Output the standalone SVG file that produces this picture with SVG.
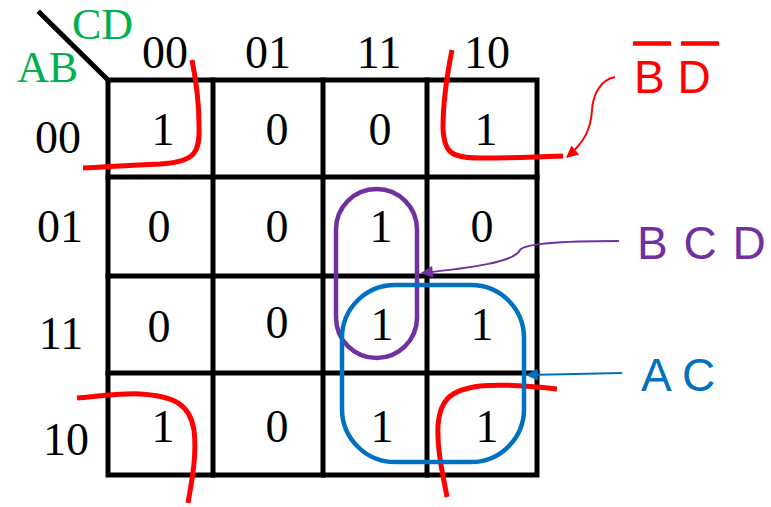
<svg xmlns="http://www.w3.org/2000/svg" width="771" height="507" viewBox="0 0 771 507">
<style>
.g{stroke:#000;stroke-width:5;fill:none;stroke-linecap:square}
.n{font-family:"Liberation Serif","Times New Roman",serif;font-size:46px;fill:#000;text-anchor:middle}
.hd{font-family:"Liberation Serif","Times New Roman",serif;font-size:44px;fill:#00B050}
.lb{font-family:"Liberation Sans",Arial,sans-serif;font-size:46px}
.red{stroke:#FF0000;stroke-width:5;fill:none;stroke-linecap:butt}
</style>
<defs>
<marker id="ar" viewBox="0 0 10 10" refX="9" refY="5" markerWidth="14" markerHeight="12" orient="auto" markerUnits="userSpaceOnUse"><path d="M0,0L10,5L0,10z" fill="#FF0000"/></marker>
<marker id="ap" viewBox="0 0 10 10" refX="9" refY="5" markerWidth="14" markerHeight="12" orient="auto" markerUnits="userSpaceOnUse"><path d="M0,0L10,5L0,10z" fill="#7030A0"/></marker>
<marker id="ab" viewBox="0 0 10 10" refX="9" refY="5" markerWidth="14" markerHeight="12" orient="auto" markerUnits="userSpaceOnUse"><path d="M0,0L10,5L0,10z" fill="#0070C0"/></marker>
</defs>
<g id="grid">
<line class="g" x1="40" y1="13" x2="108" y2="80"/>
<rect class="g" x="108" y="80" width="429" height="395"/>
<line class="g" x1="213" y1="80" x2="213" y2="475"/>
<line class="g" x1="323" y1="80" x2="323" y2="475"/>
<line class="g" x1="427" y1="80" x2="427" y2="475"/>
<line class="g" x1="108" y1="177" x2="537" y2="177"/>
<line class="g" x1="108" y1="276" x2="537" y2="276"/>
<line class="g" x1="108" y1="373" x2="537" y2="373"/>
</g>
<g id="headers">
<text class="hd" x="72" y="39">CD</text>
<text class="hd" x="17" y="82">AB</text>
<text class="n" x="165" y="68">00</text>
<text class="n" x="268" y="68">01</text>
<text class="n" x="379" y="68">11</text>
<text class="n" x="487" y="68">10</text>
<text class="n" x="58" y="153">00</text>
<text class="n" x="60" y="242">01</text>
<text class="n" x="61" y="349">11</text>
<text class="n" x="66" y="455">10</text>
</g>
<g id="cells">
<text class="n" x="163" y="145">1</text>
<text class="n" x="277" y="145">0</text>
<text class="n" x="380" y="145">0</text>
<text class="n" x="486" y="145">1</text>
<text class="n" x="159" y="242">0</text>
<text class="n" x="277" y="242">0</text>
<text class="n" x="381" y="242">1</text>
<text class="n" x="482" y="242">0</text>
<text class="n" x="159" y="342">0</text>
<text class="n" x="277" y="338">0</text>
<text class="n" x="382" y="340">1</text>
<text class="n" x="482" y="340">1</text>
<text class="n" x="163" y="442">1</text>
<text class="n" x="277" y="442">0</text>
<text class="n" x="382" y="442">1</text>
<text class="n" x="487" y="442">1</text>
</g>
<g id="loops">
<path class="red" d="M192,60 C196,80 199,100 199,125 C200,152 196,162 160,164 C130,165 105,167 83,168"/>
<path class="red" d="M452,50 C448,70 443,100 443,128 C444,152 450,158 480,158 C510,158 540,157 563,156"/>
<path class="red" d="M77,398 C100,396 120,393 140,394 C175,396 190,405 194,430 C197,455 192,480 188,503"/>
<path class="red" d="M557,389 C530,386 500,384 480,386 C450,390 440,400 438,425 C437,450 442,470 447,497"/>
<rect x="336" y="189" width="81" height="169" rx="40.5" fill="none" stroke="#7030A0" stroke-width="4.5"/>
<rect x="342" y="285" width="182" height="177" rx="53" fill="none" stroke="#0070C0" stroke-width="4.5"/>
</g>
<g id="labels">
<text class="lb" x="634" y="93" fill="#FF0000">B D</text>
<line x1="633" y1="43.5" x2="671" y2="43.5" stroke="#FF0000" stroke-width="4.5"/>
<line x1="681" y1="43.5" x2="719" y2="43.5" stroke="#FF0000" stroke-width="4.5"/>
<text class="lb" x="637" y="259" fill="#7030A0" letter-spacing="1.5">B C D</text>
<text class="lb" x="641" y="391" fill="#0070C0">A C</text>
</g>
<g id="connectors">
<path d="M615,77 C600,80 593,95 592,110 C591,128 585,142 567,157" fill="none" stroke="#FF0000" stroke-width="2" marker-end="url(#ar)"/>
<path d="M619,241 C570,241 525,243 520,250 C515,262 470,268 422,273" fill="none" stroke="#7030A0" stroke-width="2" marker-end="url(#ap)"/>
<path d="M622,373 L527,375" fill="none" stroke="#0070C0" stroke-width="2" marker-end="url(#ab)"/>
</g>
</svg>
